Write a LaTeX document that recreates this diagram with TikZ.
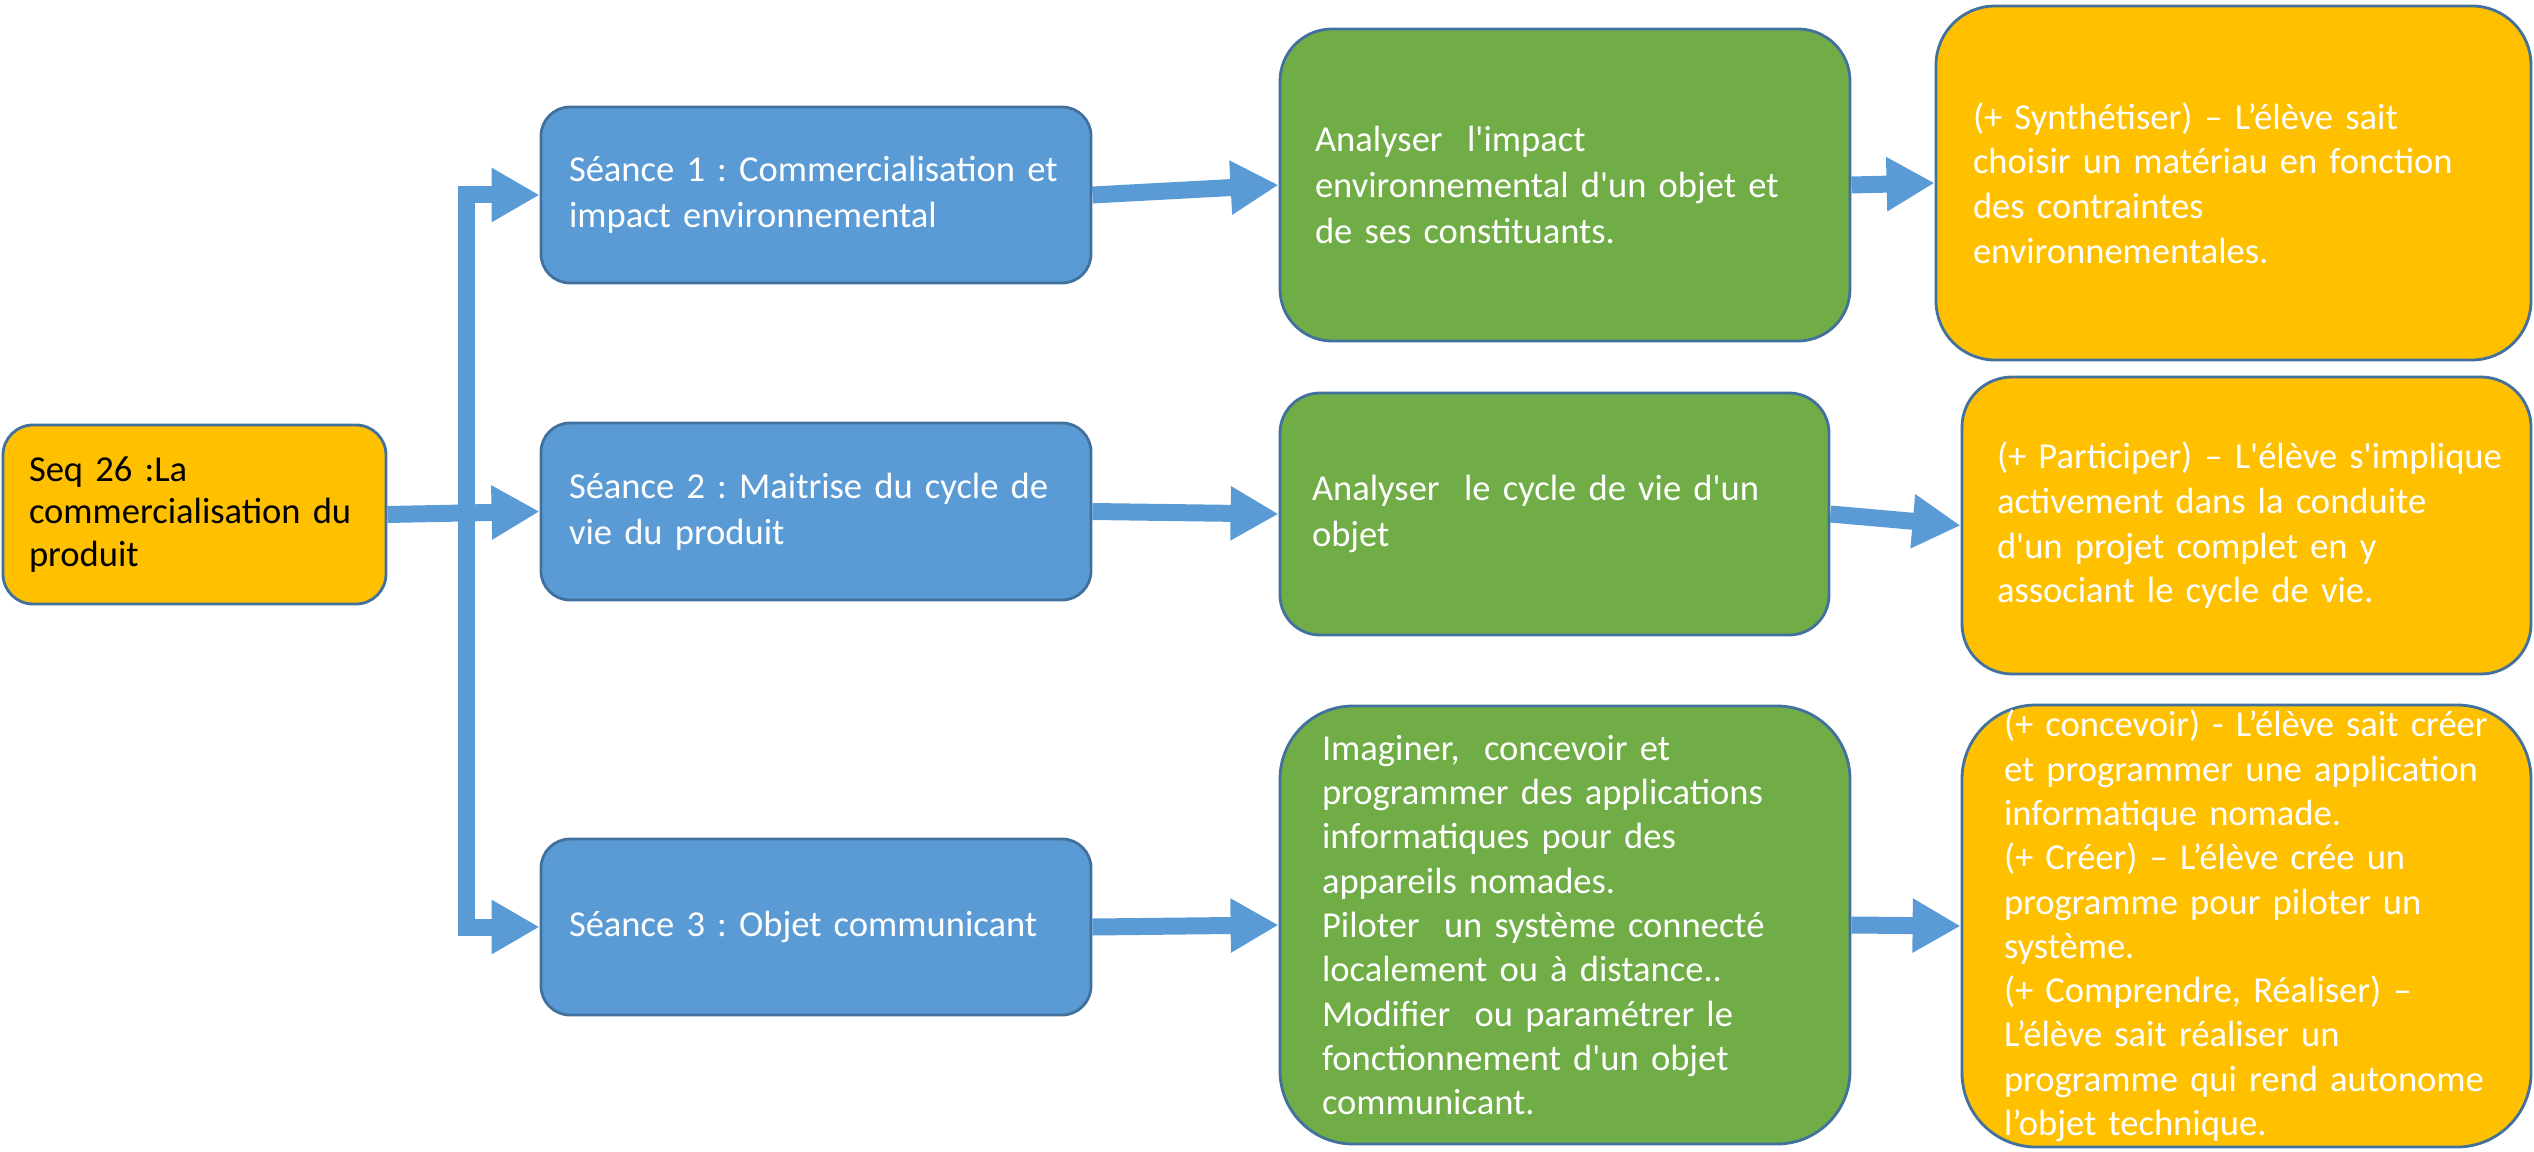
\documentclass[tikz,border=0pt]{standalone}
\usepackage{fontspec}
\setmainfont{Carlito}[Ligatures=TeXOff]
\frenchspacing
\usetikzlibrary{arrows.meta}

\definecolor{seanceblue}{HTML}{5B9BD5}
\definecolor{skillgreen}{HTML}{70AD47}
\definecolor{goalyellow}{HTML}{FFC000}
\definecolor{edgeblue}{HTML}{41719C}

\begin{document}
\begin{tikzpicture}[
    card/.style={draw=edgeblue, line width=0.8pt, align=left, inner xsep=0pt,
      inner ysep=0pt, text=white, font=\fontsize{10.4}{13}\selectfont},
    inset/.style={execute at begin node={\leftskip=#1\relax\hyphenpenalty=10000\relax}},
    link/.style={draw=seanceblue, line width=0.17cm,
      -{Triangle[length=0.48cm,width=0.51cm]}},
    trunk/.style={draw=seanceblue, line width=0.17cm}
  ]
    \useasboundingbox (0,0) rectangle (25.34,-11.52);

    % Draw the sequence box
    \node[card, fill=goalyellow, text=black, rounded corners=0.3cm,
      text width=3.83cm, inset=0.26cm, minimum height=1.79cm,
      font=\fontsize{10.4}{12.2}\selectfont] (seq) at (1.945,-5.145)
      {Seq 26 :La\\commercialisation du\\produit};

    % Draw the three sessions
    \node[card, fill=seanceblue, rounded corners=0.29cm, text width=5.5cm,
      inset=0.28cm, minimum height=1.76cm] (s1) at (8.16,-1.95)
      {Séance 1 : Commercialisation et\\impact environnemental};
    \node[card, fill=seanceblue, rounded corners=0.29cm, text width=5.5cm,
      inset=0.28cm, minimum height=1.77cm] (s2) at (8.16,-5.115)
      {Séance 2 : Maitrise du cycle de\\vie du produit};
    \node[card, fill=seanceblue, rounded corners=0.29cm, text width=5.5cm,
      inset=0.28cm, minimum height=1.76cm] (s3) at (8.16,-9.27)
      {Séance 3 : Objet communicant};

    % Draw the skills
    \node[card, fill=skillgreen, rounded corners=0.52cm, text width=5.7cm,
      inset=0.35cm, minimum height=3.12cm] (g1) at (15.65,-1.85)
      {Analyser\ \ l'impact\\environnemental d'un objet et\\de ses constituants.};
    \node[card, fill=skillgreen, rounded corners=0.4cm, text width=5.49cm,
      inset=0.32cm, minimum height=2.42cm] (g2) at (15.545,-5.14)
      {Analyser\ \ le cycle de vie d'un\\objet};
    \node[card, fill=skillgreen, rounded corners=0.73cm, text width=5.7cm,
      inset=0.42cm, minimum height=4.38cm,
      font=\fontsize{10.4}{12.6}\selectfont] (g3) at (15.65,-9.25)
      {Imaginer,\ \ concevoir et\\programmer des applications\\informatiques pour des\\appareils nomades.\\Piloter\ \ un système connecté\\localement ou à distance..\\Modifier\ \ ou paramétrer le\\fonctionnement d'un objet\\communicant.};

    % Draw the expected outcomes
    \node[card, fill=goalyellow, rounded corners=0.59cm, text width=5.95cm,
      inset=0.37cm, minimum height=3.54cm,
      font=\fontsize{10.4}{12.7}\selectfont] (y1) at (22.335,-1.83)
      {(+ Synthétiser) – L’élève sait\\choisir un matériau en fonction\\des contraintes\\environnementales.};
    \node[card, fill=goalyellow, rounded corners=0.5cm, text width=5.69cm,
      inset=0.35cm, minimum height=2.97cm,
      font=\fontsize{10.4}{12.7}\selectfont] (y2) at (22.465,-5.255)
      {(+ Participer) – L'élève s'implique\\activement dans la conduite\\d'un projet complet en y\\associant le cycle de vie.};
    \node[card, fill=goalyellow, rounded corners=0.74cm, text width=5.69cm,
      inset=0.42cm, minimum height=4.42cm,
      font=\fontsize{10.4}{12.6}\selectfont] (y3) at (22.465,-9.26)
      {(+ concevoir) - L’élève sait créer\\et programmer une application\\informatique nomade.\\(+ Créer) – L’élève crée un\\programme pour piloter un\\système.\\(+ Comprendre, Réaliser) –\\L’élève sait réaliser un\\programme qui rend autonome\\l’objet technique.};

    % Draw the fork from the sequence to the sessions
    \coordinate (fork) at (4.66,-5.145);
    \draw[link] (seq.east) -- (s2.west);
    \draw[trunk] (fork) |- (4.9,-1.95);
    \draw[link] (4.66,-1.95) -- (s1.west);
    \draw[trunk] (fork) |- (4.9,-9.27);
    \draw[link] (4.66,-9.27) -- (s3.west);

    % Draw the arrows between the columns
    \draw[link] (s1.east) -- (g1.west);
    \draw[link] (s2.east) -- (g2.west);
    \draw[link] (s3.east) -- (g3.west);
    \draw[link] (g1.east) -- (y1.west);
    \draw[link] (g2.east) -- (y2.west);
    \draw[link] (g3.east) -- (y3.west);
\end{tikzpicture}
\end{document}
